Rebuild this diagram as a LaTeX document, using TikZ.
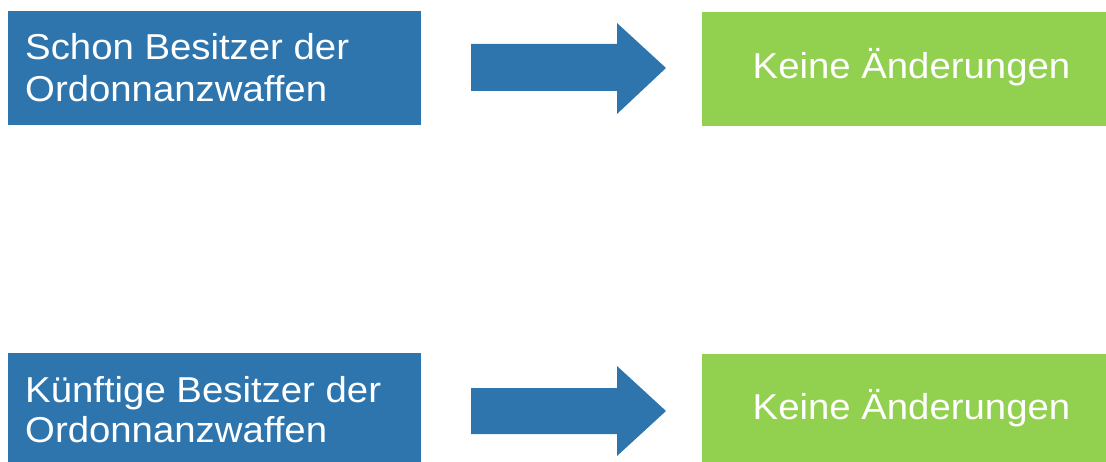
\documentclass[tikz,border=0pt]{standalone}
\usepackage{fontspec}
\newfontfamily\boxfont{Liberation Sans}[FakeStretch=1.065]
\definecolor{boxblue}{HTML}{2E75AE}
\definecolor{boxgreen}{HTML}{92D050}
\begin{document}
\begin{tikzpicture}[x=1pt,y=-1pt,
  bluebox/.style={fill=boxblue,draw=none},
  greenbox/.style={fill=boxgreen,draw=none},
  blockarrow/.style={fill=boxblue,draw=none},
  boxtext/.style={text=white,font=\boxfont\fontsize{36}{42}\selectfont,inner sep=0pt}]
\useasboundingbox (0,0) rectangle (1106,462);
% top row
\fill[bluebox] (8,11) rectangle (421,125);
\coordinate (tl) at (8,11);
\node[boxtext,anchor=base west] (t1a) at (25,60) {Schon Besitzer der};
\node[boxtext,anchor=base west] (t1b) at (25,102) {Ordonnanzwaffen};
\fill[blockarrow] (471,44) -- (617,44) -- (617,23) -- (666,68) -- (617,114) -- (617,91) -- (471,91) -- cycle;
\fill[greenbox] (702,12) rectangle (1106,126);
\node[boxtext,anchor=base] (t2) at (911.5,79) {Keine Änderungen};
% bottom row
\fill[bluebox] (8,353) rectangle (421,462);
\node[boxtext,anchor=base west] (b1a) at (25,402) {Künftige Besitzer der};
\node[boxtext,anchor=base west] (b1b) at (25,442) {Ordonnanzwaffen};
\fill[blockarrow] (471,388) -- (617,388) -- (617,366) -- (666,411) -- (617,456) -- (617,434) -- (471,434) -- cycle;
\fill[greenbox] (702,354) rectangle (1106,462);
\node[boxtext,anchor=base] (b2) at (911.5,419) {Keine Änderungen};
\end{tikzpicture}
\end{document}
